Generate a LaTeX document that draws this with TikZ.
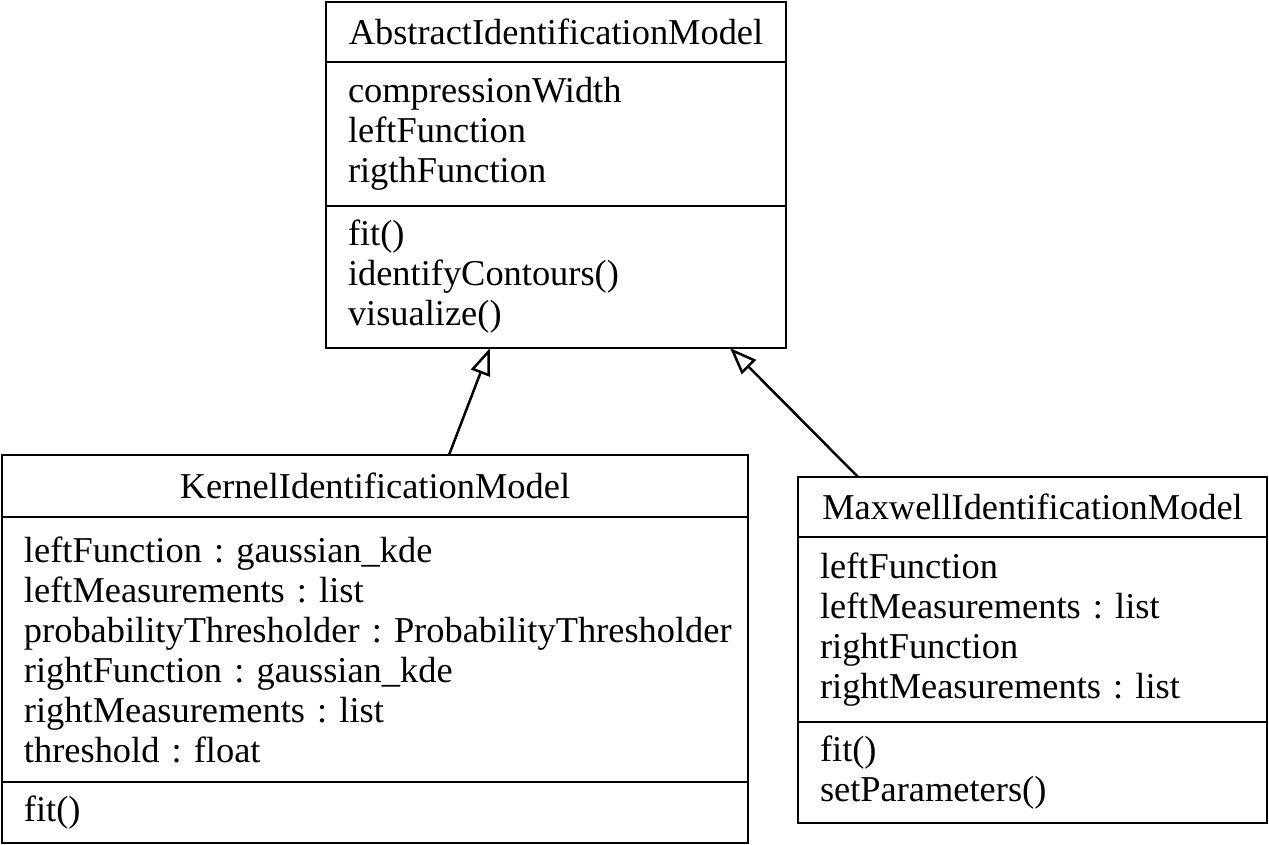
\documentclass[tikz,border=0pt]{standalone}
\usepackage{fontspec}
\setmainfont{Liberation Serif}
\usetikzlibrary{arrows.meta}
\usetikzlibrary{positioning}
\frenchspacing
\hyphenpenalty=10000

\begin{document}
\begin{tikzpicture}[->,>={Triangle[open,length=13.5pt,width=10pt]},line width=1.25pt,node distance=0pt,
			member/.style={draw,outer sep=0pt,inner xsep=11pt,inner ysep=0pt,font=\fontsize{18.2}{20}\selectfont,align=left},
			classname/.style={member,align=center,anchor=north west}]
			\useasboundingbox (0,0) rectangle (634.5pt,-422.5pt);
			\node[classname,text width=208pt,minimum height=30pt] (abs) at (163pt,-1pt) {AbstractIdentificationModel};
			\node[member,below=of abs,text width=208pt,minimum height=72pt] (absAttr) {compressionWidth\\leftFunction\\rigthFunction};
			\node[member,below=of absAttr,text width=208pt,minimum height=71pt] (absOps) {fit()\\identifyContours()\\visualize()};
			\node[classname,text width=351pt,minimum height=31pt] (ker) at (1pt,-227.5pt) {KernelIdentificationModel};
			\node[member,below=of ker,text width=351pt,minimum height=132.5pt] (kerAttr) {leftFunction : gaussian\_kde\\leftMeasurements : list\\\mbox{probabilityThresholder : ProbabilityThresholder}\\rightFunction : gaussian\_kde\\rightMeasurements : list\\threshold : float};
			\node[member,below=of kerAttr,text width=351pt,minimum height=30.5pt] (kerOps) {fit()};
			\node[classname,text width=212.5pt,minimum height=30pt] (max) at (399pt,-238.5pt) {MaxwellIdentificationModel};
			\node[member,below=of max,text width=212.5pt,minimum height=92.5pt] (maxAttr) {leftFunction\\leftMeasurements : list\\rightFunction\\rightMeasurements : list};
			\node[member,below=of maxAttr,text width=212.5pt,minimum height=50.5pt] (maxOps) {fit()\\setParameters()};
			\draw  ([xshift=37pt]ker.north) -- ([xshift=-33pt]absOps.south);
			\draw  ([xshift=-87.25pt]max.north) -- ([xshift=87pt]absOps.south);
\end{tikzpicture}
\end{document}
